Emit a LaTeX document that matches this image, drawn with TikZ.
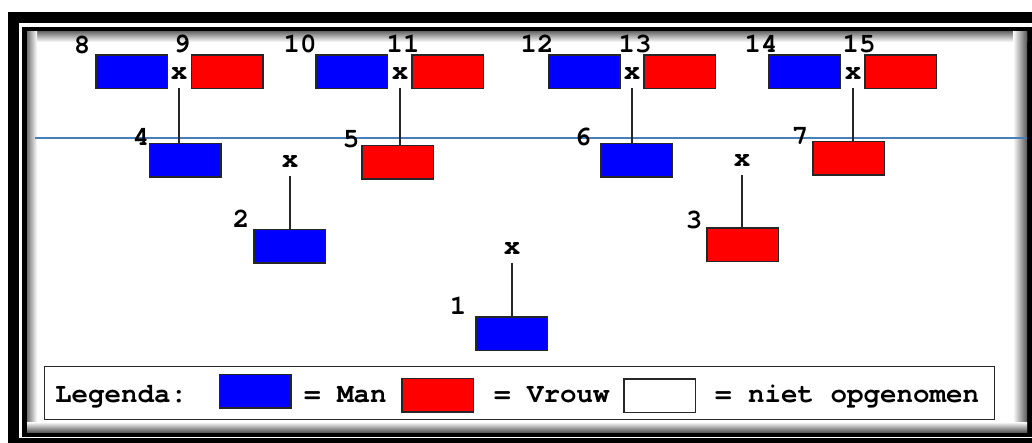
\documentclass[tikz,border=0pt]{standalone}
\usepackage{fontspec}
\newfontfamily\cfont{TeX Gyre Cursor}
\definecolor{manblue}{RGB}{0,0,255}
\definecolor{vrouwred}{RGB}{255,0,0}
\definecolor{genline}{RGB}{74,126,187}
\begin{document}
\begin{tikzpicture}[x=1pt,y=1pt,
  box/.style={draw=black!85, line width=1.5pt, minimum width=71.5pt, minimum height=33.5pt, inner sep=0pt, outer sep=0pt},
  man/.style={box, fill=manblue},
  vrouw/.style={box, fill=vrouwred},
  leeg/.style={box, fill=white},
  txt/.style={font=\cfont\bfseries\fontsize{27.5}{30}\selectfont, inner sep=0pt, outer sep=0pt},
  xmark/.style={txt},
  link/.style={draw=black!85, line width=1.3pt, shorten <=8.5pt}
]
\useasboundingbox (0,0) rectangle (1032,-443);
\fill[white] (0,0) rectangle (1032,-443);
% frame
\draw[line width=11pt] (13.5,-17.5) rectangle (1045,-443.5);
\draw[line width=5pt] (24.5,-29.5) rectangle (1029.5,-434.5);
\shade[top color=black!55, bottom color=white] (27,-32) rectangle (1027,-42);
\shade[left color=black!55, right color=white] (27,-32) rectangle (37,-432);
\shade[left color=white, right color=black!65] (1013,-32) rectangle (1027,-432);
\shade[top color=white, bottom color=black!65] (27,-422) rectangle (1027,-432);
% generation line
\coordinate (gl) at (35,-138);
\coordinate (gr) at (1027,-138);
\draw[genline, line width=1.5pt] (gl) -- (gr);
% top row
\node[man]   (b8)  at (131.5,-72) {};
\node[vrouw] (b9)  at (227,-72) {};
\node[man]   (b10) at (351.5,-72) {};
\node[vrouw] (b11) at (447.5,-72) {};
\node[man]   (b12) at (584,-72) {};
\node[vrouw] (b13) at (679.5,-72) {};
\node[man]   (b14) at (804.5,-72) {};
\node[vrouw] (b15) at (900.5,-72) {};
% second row
\node[man]   (b4) at (185,-160.5) {};
\node[vrouw] (b5) at (397.5,-162.5) {};
\node[man]   (b6) at (636.5,-160.5) {};
\node[vrouw] (b7) at (848.5,-158.5) {};
% third row
\node[man]   (b2) at (289.5,-246.5) {};
\node[vrouw] (b3) at (742.5,-245) {};
% fourth row
\node[man]   (b1) at (511.5,-333.5) {};
% marriage marks
\node[xmark] (m9)  at (179,-73) {x};
\node[xmark] (m11) at (400,-73) {x};
\node[xmark] (m13) at (632,-73) {x};
\node[xmark] (m15) at (853,-73) {x};
\node[xmark] (m2)  at (290,-161) {x};
\node[xmark] (m3)  at (742,-160) {x};
\node[xmark] (m1)  at (512,-248) {x};
% connectors
\draw[link] (m9.south)  -- (m9.south  |- b4.north);
\draw[link] (m11.south) -- (m11.south |- b5.north);
\draw[link] (m13.south) -- (m13.south |- b6.north);
\draw[link] (m15.south) -- (m15.south |- b7.north);
\draw[link] (m2.south)  -- (m2.south  |- b2.north);
\draw[link] (m3.south)  -- (m3.south  |- b3.north);
\draw[link] (m1.south)  -- (m1.south  |- b1.north);
% number labels
\node[txt] (l8)  at (82,-45) {8};
\node[txt] (l9)  at (182,-44) {9};
\node[txt] (l10) at (300,-44) {10};
\node[txt] (l11) at (403,-44) {11};
\node[txt] (l12) at (537,-44) {12};
\node[txt] (l13) at (635,-44) {13};
\node[txt] (l14) at (761,-44) {14};
\node[txt] (l15) at (859,-44) {15};
\node[txt] (l4)  at (141,-137) {4};
\node[txt] (l5)  at (351,-139) {5};
\node[txt] (l6)  at (583,-137) {6};
\node[txt] (l7)  at (800,-136) {7};
\node[txt] (l2)  at (241,-219) {2};
\node[txt] (l3)  at (694,-220) {3};
\node[txt] (l1)  at (458,-306) {1};
% legend
\node[draw=black!85, line width=1.3pt, minimum width=949.5pt, minimum height=52.5pt, inner sep=0pt] (legend) at (519.5,-393) {};
\node[txt, anchor=base west] (lt0) at (55,-402) {Legenda:};
\node[man]   (sw1) at (255,-391) {};
\node[txt, anchor=base west] (lt1) at (304,-402) {= Man};
\node[vrouw] (sw2) at (437.5,-395) {};
\node[txt, anchor=base west] (lt2) at (494,-402) {= Vrouw};
\node[leeg]  (sw3) at (659.5,-395.5) {};
\node[txt, anchor=base west] (lt3) at (715,-402) {= niet opgenomen};
\end{tikzpicture}
\end{document}
